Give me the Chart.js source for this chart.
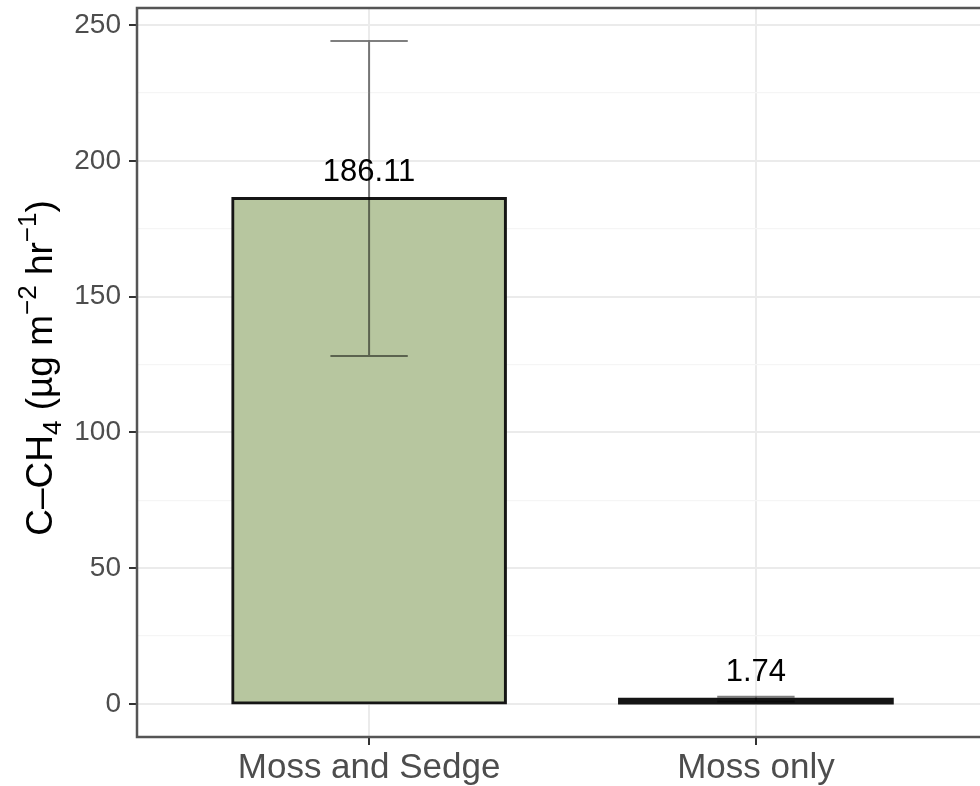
<!DOCTYPE html>
<html>
<head>
<meta charset="utf-8">
<script src="https://cdn.jsdelivr.net/npm/chart.js@4"></script>
<style>
  html, body { margin: 0; padding: 0; background: #fff; overflow: hidden; }
  #wrap { width: 980px; height: 786px; overflow: hidden; }
</style>
</head>
<body>
<div id="wrap"><canvas id="fluxChart" width="1000" height="786"></canvas></div>
<script>
// values
const categories = ['Moss and Sedge', 'Moss only'];
const meanFlux = [186.11, 1.74];
const seFlux = [58.0, 0.85];
const yTicks = [0, 50, 100, 150, 200, 250];
const yMinorTicks = [25, 75, 125, 175, 225];

const FONT = 'Liberation Sans, Arial, Helvetica, sans-serif';
const BAR_LINE = 3;
const BAR_FILL = '#b7c69f';
const BAR_EDGE = '#151515';

// error bars + value labels on top of the bars
const errorBarPlugin = {
    id: 'errorBars',
    afterDatasetsDraw(chart) {
        const ctx = chart.ctx;
        const xs = chart.scales.x;
        const ys = chart.scales.y;
        ctx.save();
        ctx.strokeStyle = 'rgba(0, 0, 0, 0.5)';
        ctx.lineWidth = 2;
        meanFlux.forEach((m, i) => {
            const pos = i + 1;
            const x = xs.getPixelForValue(pos);
            const xl = xs.getPixelForValue(pos - 0.1);
            const xr = xs.getPixelForValue(pos + 0.1);
            const yt = ys.getPixelForValue(m + seFlux[i]);
            const yb = ys.getPixelForValue(m - seFlux[i]);
            ctx.beginPath();
            ctx.moveTo(x, yt); ctx.lineTo(x, yb);
            ctx.moveTo(xl, yt); ctx.lineTo(xr, yt);
            ctx.moveTo(xl, yb); ctx.lineTo(xr, yb);
            ctx.stroke();
        });
        ctx.fillStyle = '#000';
        ctx.font = '31px ' + FONT;
        ctx.textAlign = 'center';
        ctx.textBaseline = 'alphabetic';
        meanFlux.forEach((m, i) => {
            const x = xs.getPixelForValue(i + 1);
            const y = ys.getPixelForValue(m);
            ctx.fillText(m.toFixed(2), x, y - 18);
        });
        ctx.restore();
    }
};

// panel border and y axis title with sub/superscripts
const frameTitlePlugin = {
    id: 'frameTitle',
    afterDraw(chart) {
        const ctx = chart.ctx;
        const a = chart.chartArea;
        ctx.save();
        ctx.strokeStyle = '#555';
        ctx.lineWidth = 2.5;
        ctx.strokeRect(a.left, a.top, a.right - a.left, a.bottom - a.top);

        const size = 37, small = 26;
        const parts = [
            ['C\u2013CH', size, 0],
            ['4', small, 0.25 * size],
            [' (\u00b5g m', size, 0],
            ['\u22122', small, -0.42 * size],
            [' hr', size, 0],
            ['\u22121', small, -0.42 * size],
            [')', size, 0]
        ];
        let total = 0;
        parts.forEach(p => { ctx.font = p[1] + 'px ' + FONT; total += ctx.measureText(p[0]).width; });
        ctx.translate(52, 368);
        ctx.rotate(-Math.PI / 2);
        ctx.fillStyle = '#000';
        ctx.textBaseline = 'alphabetic';
        ctx.textAlign = 'left';
        let x = -total / 2;
        parts.forEach(p => {
            ctx.font = p[1] + 'px ' + FONT;
            ctx.fillText(p[0], x, p[2]);
            x += ctx.measureText(p[0]).width;
        });
        ctx.restore();
    }
};

const isMinor = v => yMinorTicks.includes(v);

// a bar thinner than its own outline shows only the outline colour
const isThin = c => {
    const ys = c.chart.scales.y;
    if (!ys || !c.parsed) return false;
    return Math.abs(ys.getPixelForValue(c.parsed.y) - ys.getPixelForValue(0)) < 2 * BAR_LINE;
};

const chart = new Chart(document.getElementById('fluxChart').getContext('2d'), {
    type: 'bar',
    data: {
        datasets: [{
            data: meanFlux.map((m, i) => ({ x: i + 1, y: m })),
            backgroundColor: c => isThin(c) ? BAR_EDGE : BAR_FILL,
            borderColor: BAR_EDGE,
            borderWidth: c => isThin(c) ? 0 : BAR_LINE,
            inflateAmount: BAR_LINE / 2,
            borderSkipped: false,
            categoryPercentage: 1,
            barPercentage: 0.705
        }]
    },
    options: {
        responsive: false,
        animation: false,
        layout: { padding: { left: 0, top: 8, right: 12, bottom: 0 } },
        plugins: {
            legend: { display: false },
            tooltip: { enabled: false }
        },
        scales: {
            x: {
                type: 'linear',
                min: 0.4,
                max: 2.6,
                offset: false,
                afterBuildTicks: s => { s.ticks = categories.map((c, i) => ({ value: i + 1 })); },
                afterFit: s => { s.height = 49; s.paddingLeft = 0; s.paddingRight = 0; },
                ticks: {
                    callback: v => categories[v - 1],
                    color: '#4d4d4d',
                    font: { family: FONT, size: 35 },
                    padding: 2,
                    maxRotation: 0,
                    autoSkip: false
                },
                grid: {
                    offset: false,
                    color: '#ebebeb',
                    lineWidth: 2,
                    drawTicks: true,
                    tickLength: 8,
                    tickColor: '#333',
                    tickWidth: 2
                },
                border: { display: false }
            },
            y: {
                min: -12.2,
                max: 256.3,
                afterBuildTicks: s => {
                    s.ticks = yTicks.concat(yMinorTicks).sort((a, b) => a - b).map(v => ({ value: v }));
                },
                afterFit: s => { s.width = 137; s.paddingTop = 0; s.paddingBottom = 0; },
                ticks: {
                    callback: v => isMinor(v) ? '' : String(v),
                    color: '#4d4d4d',
                    font: { family: FONT, size: 28 },
                    padding: 8,
                    autoSkip: false
                },
                grid: {
                    color: c => isMinor(c.tick.value) ? '#f5f5f5' : '#ebebeb',
                    lineWidth: c => isMinor(c.tick.value) ? 1.2 : 2,
                    drawTicks: true,
                    tickLength: 8,
                    tickColor: c => isMinor(c.tick.value) ? 'rgba(0,0,0,0)' : '#333',
                    tickWidth: 2
                },
                border: { display: false }
            }
        }
    },
    plugins: [errorBarPlugin, frameTitlePlugin]
});
</script>
</body>
</html>
